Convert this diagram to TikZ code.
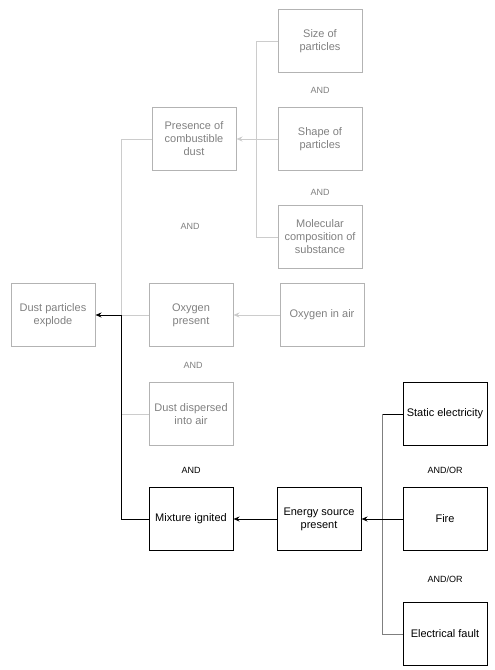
\documentclass[tikz,border=0pt]{standalone}
\usepackage{fontspec}
\setmainfont{Liberation Sans}
\usetikzlibrary{arrows.meta,positioning}
\definecolor{boxgray}{HTML}{B3B3B3}
\definecolor{textgray}{HTML}{808080}
\definecolor{linegray}{HTML}{CCCCCC}
\definecolor{darkline}{HTML}{7F7F7F}

\begin{document}
\begin{tikzpicture}[>={Stealth[length=6pt,width=5pt]},on grid,line width=1pt,
        gray node/.style={rectangle,draw=boxgray,text=textgray,minimum width=84pt,
            minimum height=63pt,align=center,font=\fontsize{11}{13}\selectfont},
        black node/.style={gray node,draw=black,text=black},
        gate/.style={font=\fontsize{9}{11}\selectfont,text=textgray}]
        \useasboundingbox (0,0) rectangle (495pt,-670pt);
        \node[gray node] (explode) at (53pt,-315pt) {Dust particles\\explode};
        \node[gray node] (oxygen) [right=138pt of explode] {Oxygen\\present};
        \node[gray node] (air) [right=131pt of oxygen] {Oxygen in air};
        \node[gray node] (presence) [above=176pt of oxygen,xshift=3pt] {Presence of\\combustible\\dust};
        \node[gray node] (shape) [right=126pt of presence] {Shape of\\particles};
        \node[gray node] (size) [above=98pt of shape] {Size of\\particles};
        \node[gray node] (molecular) [below=98pt of shape] {Molecular\\composition of\\substance};
        \node[gray node] (dispersed) [below=99pt of oxygen] {Dust dispersed\\into air};
        \node[black node] (mixture) [below=105pt of dispersed] {Mixture ignited};
        \node[black node] (energy) [right=128pt of mixture] {Energy source\\present};
        \node[black node] (fire) [right=126pt of energy] {Fire};
        \node[black node] (static) [above=105pt of fire] {Static electricity};
        \node[black node] (fault) [below=115pt of fire] {Electrical fault};
        \node[gate] (and1) [below=49pt of size] {AND};
        \node[gate] (and2) [below=53pt of shape] {AND};
        \node[gate] (and3) [below=87pt of presence,xshift=-4pt] {AND};
        \node[gate] (and4) [below=50pt of oxygen,xshift=2pt] {AND};
        \node[gate,text=black] (and5) [below=56pt of dispersed] {AND};
        \node[gate,text=black] (andor1) [below=56pt of static] {AND/OR};
        \node[gate,text=black] (andor2) [below=60pt of fire] {AND/OR};
        \draw[linegray] (size.west) -- ++(-21pt,0) coordinate (j1)
            -- (j1 |- molecular.west) -- (molecular.west);
        \draw[linegray] (presence.west) -- ++(-30pt,0) coordinate (j2)
            -- (j2 |- dispersed.west) -- (dispersed.west);
        \draw[linegray] (oxygen.west) -- (j2 |- oxygen.west);
        \draw[darkline] (fault.west) -- ++(-20pt,0) coordinate (j3)
            -- (j3 |- static.west);
        \draw (static.west) -- (j3 |- static.west);
        \path[->]
        (shape) edge[linegray] (presence)
        (air) edge[linegray] (oxygen)
        (energy) edge (mixture)
        (fire) edge (energy);
        \draw[->] (mixture.west) -- ++(-27pt,0) coordinate (j4)
            -- (j4 |- explode.east) -- (explode.east);
\end{tikzpicture}
\end{document}
